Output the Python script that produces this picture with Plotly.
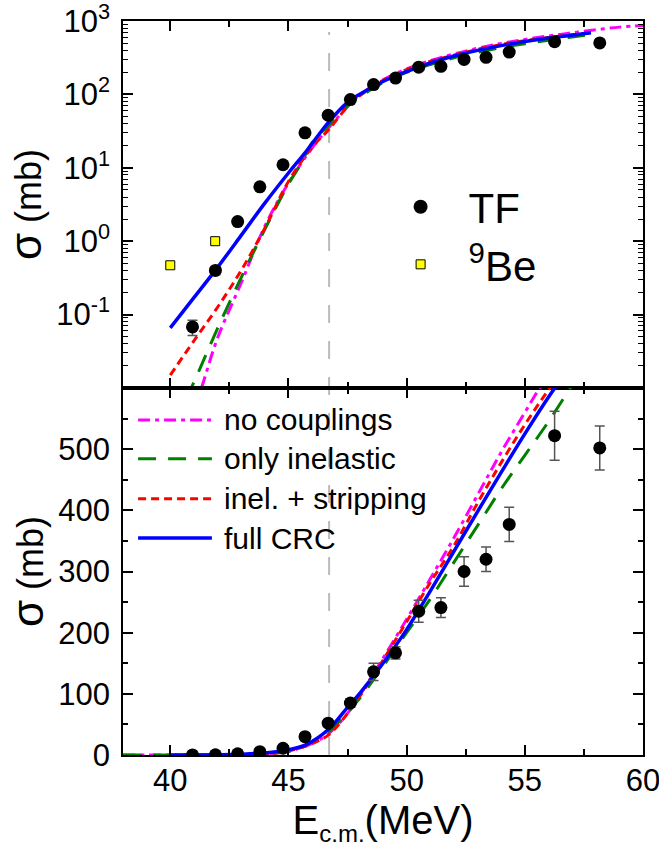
import numpy as np
import plotly.graph_objects as go
from plotly.subplots import make_subplots

# ---------------- data ----------------
E_TF = [40.94, 41.91, 42.85, 43.79, 44.77, 45.70, 46.68, 47.62, 48.60, 49.53,
        50.51, 51.45, 52.43, 53.36, 54.34, 56.26, 58.17]
sig_TF = [0.068, 0.40, 1.85, 5.5, 11, 30, 52, 85, 136, 167,
          235, 241, 300, 320, 377, 522, 502]
err_TF = [0.016, 0.05, 0.15, 0.4, 0.8, 2, 4, 7, 14, 10,
          18, 16, 24, 20, 28, 40, 36]

E_Be = [40.0, 41.9]
sig_Be = [0.47, 1.0]

E_nocpl = [38, 39, 40, 41, 41.36, 42, 43, 44, 45, 46, 46.7, 47.5, 48, 49, 50,
           51, 52, 53, 54, 55, 56, 57, 58, 59, 60]
sig_nocpl = [1e-5, 8e-5, 6e-4, 0.005, 0.011, 0.048, 0.27, 1.6, 6.2, 18.6, 35, 68, 97, 158, 222,
             288, 355, 425, 495, 560, 625, 690, 760, 825, 870]

E_inel = [38, 39, 40, 41, 42, 43, 44, 45, 45.5, 46, 46.7, 47.5, 48, 49, 50,
          51, 52, 53, 54, 55, 56, 57, 57.8]
sig_inel = [1e-4, 4e-4, 0.0025, 0.012, 0.065, 0.32, 1.45, 6.0, 11, 22, 38, 70, 92, 145, 200,
            255, 315, 375, 435, 490, 545, 605, 655]

E_strip = [40, 41, 42, 43, 44, 45, 46, 46.7, 47.5, 48, 49, 50,
           51, 52, 53, 54, 55, 56, 57, 57.8]
sig_strip = [0.015, 0.044, 0.126, 0.40, 1.5, 6.5, 19, 33, 68, 95, 155, 218,
             282, 342, 412, 478, 540, 597, 650, 695]

E_full = [40, 41, 42, 43, 44, 45, 45.7, 46.7, 47.5, 48, 49, 50,
          51, 52, 53, 54, 55, 56, 57, 57.8]
sig_full = [0.066, 0.17, 0.44, 1.2, 3.3, 8.5, 16, 42, 78, 100, 150, 205,
            268, 333, 398, 462, 525, 585, 640, 690]

E_barrier = 46.72

curve_names = ["no couplings", "only inelastic", "inel. + stripping", "full CRC"]
curve_colors = ["#FF00FF", "#008000", "#FF0000", "#0000FF"]
curve_dashes = ["12px,5px,4px,5px", "18px,12px", "8px,5px", "solid"]
curve_widths = [3, 3, 3, 3.5]
curve_x = [E_nocpl, E_inel, E_strip, E_full]
curve_y = [sig_nocpl, sig_inel, sig_strip, sig_full]

x_tickvals = [40, 45, 50, 55, 60]
x_minor = [42.5, 47.5, 52.5, 57.5]
log_tickvals = [0.1, 1, 10, 100, 1000]
log_ticktext = ["10<sup>-1</sup>", "10<sup>0</sup>", "10<sup>1</sup>",
                "10<sup>2</sup>", "10<sup>3</sup>"]
lin_tickvals = [0, 100, 200, 300, 400, 500]
lin_minor = [50, 150, 250, 350, 450, 550]

FONT = "Liberation Sans, Arial, sans-serif"

log_minor = [m * 10.0 ** e for e in range(-2, 3) for m in range(2, 10)]

fig = make_subplots(rows=2, cols=1, shared_xaxes=True, vertical_spacing=0)

for row in (1, 2):
    for xs, ys, c, d, w, n in zip(curve_x, curve_y, curve_colors, curve_dashes,
                                  curve_widths, curve_names):
        fig.add_trace(go.Scatter(x=xs, y=ys, mode="lines", name=n,
                                 line=dict(color=c, dash=d, width=w, shape="spline",
                                           smoothing=1.0),
                                 showlegend=False), row=row, col=1)
    fig.add_trace(go.Scatter(x=E_TF, y=sig_TF, mode="markers", name="TF",
                             marker=dict(symbol="circle", size=13, color="black"),
                             error_y=dict(type="data", array=err_TF, color="#555555",
                                          thickness=1.5, width=5),
                             showlegend=False), row=row, col=1)

fig.add_trace(go.Scatter(x=E_Be, y=sig_Be, mode="markers", name="<sup>9</sup>Be",
                         marker=dict(symbol="square", size=9, color="#FFFF00",
                                     line=dict(color="black", width=1)),
                         showlegend=False), row=1, col=1)

# legend-only entries for the top panel legend
fig.add_trace(go.Scatter(x=[None], y=[None], mode="markers", name="TF",
                         marker=dict(symbol="circle", size=14, color="black"),
                         legend="legend2", showlegend=True), row=1, col=1)
fig.add_trace(go.Scatter(x=[None], y=[None], mode="markers", name="<sup>9</sup>Be",
                         marker=dict(symbol="square", size=9, color="#FFFF00",
                                     line=dict(color="black", width=1)),
                         legend="legend2", showlegend=True), row=1, col=1)

axis_common = dict(showline=True, linecolor="black", linewidth=1.5, mirror="ticks",
                   ticks="inside", ticklen=10, tickwidth=1.5, tickcolor="black",
                   showgrid=False, zeroline=False, automargin=False,
                   ticklabeloverflow="allow",
                   tickfont=dict(family=FONT, size=31, color="black"))

fig.update_xaxes(**axis_common, range=[38, 60], tickmode="array", tickvals=x_tickvals,
                 minor=dict(tickmode="array", tickvals=x_minor, ticks="inside",
                            ticklen=6, tickwidth=1.5, tickcolor="black"))
fig.update_xaxes(showticklabels=False, row=1, col=1)
fig.update_xaxes(showticklabels=True, ticklabelstandoff=-3, row=2, col=1,
                 title=dict(text="E<sub><span style='font-size:24px'>c.m.</span></sub>(MeV)",
                            standoff=9,
                            font=dict(family=FONT, size=40, color="black")))

ytitle = "<span style='font-size:44px'>σ</span> (mb)"
fig.update_yaxes(**axis_common, type="log", range=[-2, 3], tickmode="array",
                 tickvals=log_tickvals, ticktext=log_ticktext, ticklabelstandoff=5,
                 minor=dict(tickmode="array", tickvals=log_minor, ticks="inside",
                            ticklen=5, tickwidth=1, tickcolor="black"),
                 title=dict(text=ytitle, standoff=4,
                            font=dict(family=FONT, size=36, color="black")),
                 row=1, col=1)
fig.update_yaxes(**axis_common, range=[0, 600], tickmode="array",
                 tickvals=lin_tickvals, ticklabelstandoff=5,
                 minor=dict(tickmode="array", tickvals=lin_minor, ticks="inside",
                            ticklen=5, tickwidth=1.5, tickcolor="black"),
                 title=dict(text=ytitle, standoff=4,
                            font=dict(family=FONT, size=36, color="black")),
                 row=2, col=1)

# barrier marker (vertical dashed line through both panels)
fig.add_shape(type="line", xref="x2", yref="paper", x0=E_barrier, x1=E_barrier,
              y0=0, y1=0.985, line=dict(color="#BBBBBB", width=2, dash="18px,18px"),
              layer="below")

# manual legend for the model curves (bottom panel)
leg_rows = [0.913, 0.807, 0.698, 0.591]
for yy, n, c, d, w in zip(leg_rows, curve_names, curve_colors, curve_dashes, curve_widths):
    fig.add_shape(type="line", xref="x2 domain", yref="y2 domain",
                  x0=0.029, x1=0.171, y0=yy, y1=yy,
                  line=dict(color=c, dash=d, width=w))
    fig.add_annotation(xref="x2 domain", yref="y2 domain", x=0.19, y=yy,
                       text=n, showarrow=False, xanchor="left", yanchor="middle",
                       font=dict(family=FONT, size=30, color="black"))

fig.update_layout(
    width=659, height=851,
    margin=dict(l=123, r=16, t=21, b=96, autoexpand=False),
    plot_bgcolor="white", paper_bgcolor="white",
    font=dict(family=FONT, color="black"),
    legend2=dict(x=0.48, y=0.793, xanchor="left", yanchor="top",
                 bgcolor="rgba(0,0,0,0)", borderwidth=0, itemwidth=86,
                 font=dict(family=FONT, size=42, color="black")),
)

# remove the default 8 px page margin so the figure sits at the window origin
fig.write_html("out.html", config={"displayModeBar": False},
               post_script="document.body.style.margin='0px'; document.body.style.overflow='hidden';")
